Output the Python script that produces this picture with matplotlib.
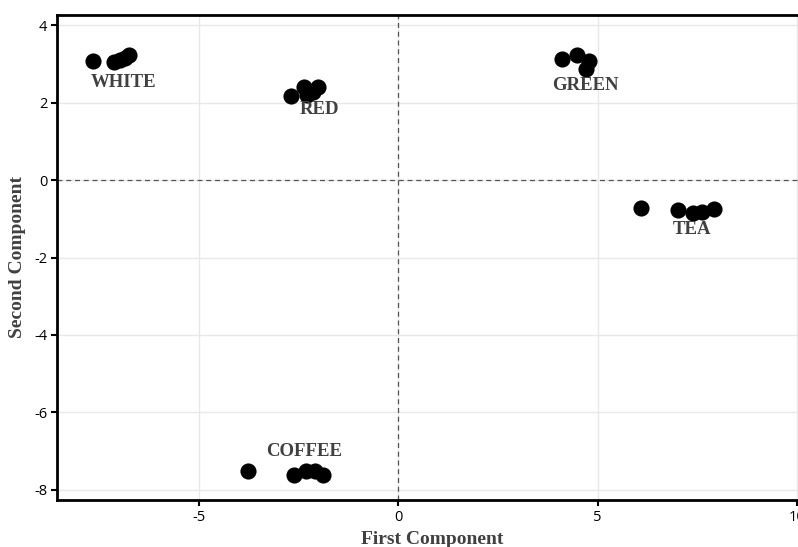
import matplotlib
matplotlib.use("Agg")
import matplotlib.pyplot as plt

plt.rcParams["axes.unicode_minus"] = False

# PCA scores per group (first, second component)
white_x = [-7.64, -7.12, -6.97, -6.84, -6.74]
white_y = [3.07, 3.05, 3.10, 3.15, 3.24]
red_x = [-2.68, -2.36, -2.28, -2.13, -2.00]
red_y = [2.17, 2.40, 2.19, 2.27, 2.40]
green_x = [4.11, 4.49, 4.79, 4.71]
green_y = [3.12, 3.23, 3.07, 2.86]
tea_x = [6.09, 7.02, 7.39, 7.62, 7.92]
tea_y = [-0.73, -0.77, -0.86, -0.82, -0.76]
coffee_x = [-3.76, -2.62, -2.31, -2.08, -1.88]
coffee_y = [-7.51, -7.61, -7.51, -7.51, -7.61]

labels = ["WHITE", "RED", "GREEN", "TEA", "COFFEE"]
label_x = [-6.87, -1.98, 4.69, 7.37, -2.36]
label_y = [2.53, 1.83, 2.45, -1.27, -7.00]

fig = plt.figure(figsize=(7.98, 5.47), dpi=100)
ax = fig.add_axes([57 / 798, 47 / 547, 750 / 798, 485 / 547])

groups = [(white_x, white_y), (red_x, red_y), (green_x, green_y),
          (tea_x, tea_y), (coffee_x, coffee_y)]
for gx, gy in groups:
    ax.scatter(gx, gy, s=135, color="black", zorder=3, linewidths=0)

for name, lx, ly in zip(labels, label_x, label_y):
    ax.text(lx, ly, name, ha="center", va="center", fontsize=13.5,
            fontweight="bold", family="Liberation Serif", color="#404040", zorder=4)

ax.axhline(0, color="#555555", lw=0.9, ls=(0, (4, 3)), zorder=2)
ax.axvline(0, color="#555555", lw=0.9, ls=(0, (4, 3)), zorder=2)

ax.set_xlim(-8.55, 10.25)
ax.set_ylim(-8.26, 4.26)
ax.set_xticks([-5, 0, 5, 10])
ax.set_yticks([-8, -6, -4, -2, 0, 2, 4])
ax.grid(True, color="#e8e8e8", lw=1.0, zorder=0)
ax.set_axisbelow(True)

for side in ["left", "bottom", "top"]:
    ax.spines[side].set_linewidth(2)
    ax.spines[side].set_color("black")
ax.spines["right"].set_visible(False)
ax.tick_params(axis="both", direction="out", length=4, width=1.5,
               labelsize=10.5, colors="black", pad=3)
for lab in ax.get_xticklabels() + ax.get_yticklabels():
    lab.set_family("Open Sans")

ax.set_xlabel("First Component", fontsize=14, fontweight="bold",
              family="Liberation Serif", color="#404040", labelpad=4.5)
ax.set_ylabel("Second Component", fontsize=14, fontweight="bold",
              family="Liberation Serif", color="#404040", labelpad=6)

fig.savefig("out.png", dpi=100)
